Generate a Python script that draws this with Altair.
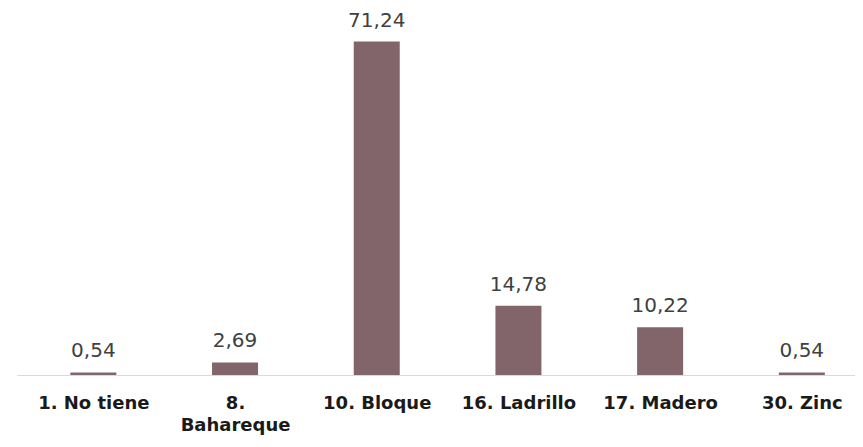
import altair as alt
import pandas as pd
import json

categories = ["1. No tiene", "8. Bahareque", "10. Bloque", "16. Ladrillo", "17. Madero", "30. Zinc"]
values = [0.54, 2.69, 71.24, 14.78, 10.22, 0.54]
value_labels = ["0,54", "2,69", "71,24", "14,78", "10,22", "0,54"]

df = pd.DataFrame({"idx": list(range(len(categories))), "cat": categories,
                   "val": values, "lab": value_labels})

# axis labels, with the long one wrapped onto two lines
axis_labels = [c.split(" ", 1) if c == "8. Bahareque" else c for c in categories]
label_expr = json.dumps(axis_labels, ensure_ascii=False) + "[round(datum.value)]"

x = alt.X("idx:Q", title=None,
          scale=alt.Scale(domain=[-0.5035, 5.340], nice=False, zero=False),
          axis=alt.Axis(values=list(range(len(categories))), labelAngle=0, ticks=False, grid=False,
                        domainColor="#d9d9d9", domainWidth=1, labelFlush=False,
                        labelOverlap=False, labelBound=False,
                        labelFont="DejaVu Sans", labelFontWeight="bold", labelFontSize=18,
                        labelColor="#1a1a1a", labelPadding=19, labelLimit=300, labelLineHeight=22,
                        labelExpr=label_expr))
y = alt.Y("val:Q", scale=alt.Scale(domain=[0, 75]), axis=None)

bars = alt.Chart(df).mark_bar(color="#82646B", size=46).encode(x=x, y=y)
text = alt.Chart(df).mark_text(baseline="alphabetic", dy=-15, font="DejaVu Sans", fontSize=20,
                               color="#404040").encode(x=x, y=y, text="lab:N")

chart = (bars + text).properties(
    width=838, height=351,
    padding={"left": 9, "right": 0, "top": 16, "bottom": 60},
    autosize=alt.AutoSizeParams(type="none"),
).configure_view(stroke=None).configure_axis(grid=False)

chart.save("out.html", embed_options={"renderer": "svg", "actions": False})
